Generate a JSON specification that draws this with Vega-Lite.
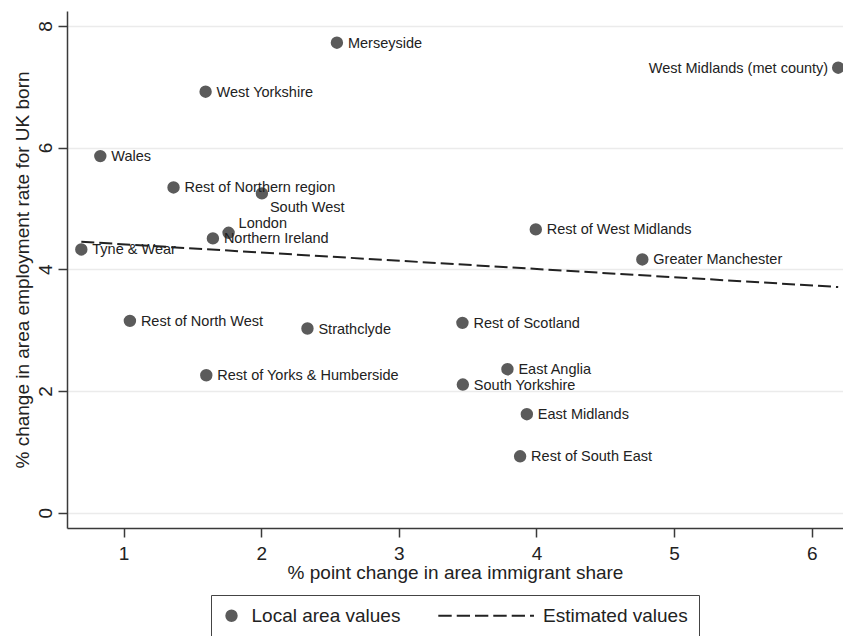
{
  "$schema": "https://vega.github.io/schema/vega-lite/v6.json",
  "width": 776,
  "height": 517,
  "autosize": {"type": "none"},
  "padding": {"left": 67, "top": 11, "right": 0, "bottom": 108},
  "background": "white",
  "config": {
    "view": {"stroke": null},
    "font": "Liberation Sans",
    "axis": {
      "labelFont": "Liberation Sans",
      "titleFont": "Liberation Sans",
      "labelFontSize": 19,
      "titleFontSize": 19,
      "titleFontWeight": "normal",
      "labelColor": "#222222",
      "titleColor": "#222222",
      "domainColor": "#3a3a3a",
      "domainWidth": 1.5,
      "tickColor": "#3a3a3a",
      "tickWidth": 1.5,
      "tickSize": 9
    },
    "legend": {
      "layout": {"bottom": {"anchor": "middle"}}
    }
  },
  "datasets": {
    "areas": [
      {"area": "Merseyside", "immig": 2.550, "emp": 7.724},
      {"area": "West Midlands (met county)", "immig": 6.192, "emp": 7.313},
      {"area": "West Yorkshire", "immig": 1.596, "emp": 6.918},
      {"area": "Wales", "immig": 0.831, "emp": 5.860},
      {"area": "Rest of Northern region", "immig": 1.363, "emp": 5.345},
      {"area": "South West", "immig": 2.005, "emp": 5.247},
      {"area": "Rest of West Midlands", "immig": 3.995, "emp": 4.655},
      {"area": "London", "immig": 1.763, "emp": 4.599},
      {"area": "Northern Ireland", "immig": 1.649, "emp": 4.507},
      {"area": "Tyne & Wear", "immig": 0.693, "emp": 4.326},
      {"area": "Greater Manchester", "immig": 4.769, "emp": 4.161},
      {"area": "Rest of North West", "immig": 1.046, "emp": 3.151},
      {"area": "Strathclyde", "immig": 2.336, "emp": 3.026},
      {"area": "Rest of Scotland", "immig": 3.462, "emp": 3.119},
      {"area": "East Anglia", "immig": 3.789, "emp": 2.357},
      {"area": "Rest of Yorks & Humberside", "immig": 1.601, "emp": 2.258},
      {"area": "South Yorkshire", "immig": 3.465, "emp": 2.105},
      {"area": "East Midlands", "immig": 3.930, "emp": 1.617},
      {"area": "Rest of South East", "immig": 3.881, "emp": 0.926}
    ],
    "fit": [
      {"immig": 0.693, "emp": 4.452},
      {"immig": 6.192, "emp": 3.708}
    ]
  },
  "layer": [
    {
      "data": {"name": "areas"},
      "mark": {"type": "point", "filled": true, "size": 154, "opacity": 1, "strokeWidth": 0},
      "encoding": {
        "x": {
          "field": "immig", "type": "quantitative",
          "scale": {"domain": [0.589, 6.227], "nice": false, "zero": false},
          "axis": {"title": "% point change in area immigrant share", "values": [1, 2, 3, 4, 5, 6], "format": "d", "grid": false, "labelPadding": 7, "titlePadding": 0}
        },
        "y": {
          "field": "emp", "type": "quantitative",
          "scale": {"domain": [-0.253, 8.245], "nice": false, "zero": false},
          "axis": {"title": "% change in area employment rate for UK born", "values": [0, 2, 4, 6, 8], "format": "d", "grid": true, "gridColor": "#ebebeb", "gridWidth": 1.5, "labelAngle": -90, "labelPadding": 3, "titlePadding": 4}
        },
        "color": {
          "datum": "Local area values",
          "type": "nominal",
          "scale": {"domain": ["Local area values", "Estimated values"], "range": ["#5b5b5b", "#222222"]},
          "legend": {
            "title": null, "orient": "bottom", "direction": "horizontal", "offset": 13, "padding": 11,
            "strokeColor": "#444444", "labelFont": "Liberation Sans", "labelFontSize": 19, "labelColor": "#222222",
            "labelOffset": 10.5, "columnPadding": 36.5, "symbolSize": 154, "symbolStrokeWidth": 0, "symbolOpacity": 1
          }
        },
        "shape": {
          "datum": "Local area values",
          "type": "nominal",
          "scale": {
            "domain": ["Local area values", "Estimated values"],
            "range": [
              "circle",
              "M-13.65,-0.16H-11.49V0.16H-13.65Z M-10.68,-0.16H-8.54V0.16H-10.68Z M-7.74,-0.16H-5.59V0.16H-7.74Z M-4.79,-0.16H-2.63V0.16H-4.79Z M-1.82,-0.16H0.32V0.16H-1.82Z M1.13,-0.16H1.77V0.16H1.13Z"
            ]
          },
          "legend": {
            "title": null, "orient": "bottom", "direction": "horizontal", "offset": 13, "padding": 11,
            "strokeColor": "#444444", "labelFont": "Liberation Sans", "labelFontSize": 19, "labelColor": "#222222",
            "labelOffset": 10.5, "columnPadding": 36.5, "symbolSize": 154, "symbolStrokeWidth": 0, "symbolOpacity": 1
          }
        }
      }
    },
    {
      "data": {"name": "areas"},
      "transform": [{"filter": {"not": {"field": "area", "oneOf": ["West Midlands (met county)", "London", "South West"]}}}],
      "mark": {"type": "text", "align": "left", "baseline": "middle", "dx": 11, "dy": 1, "fontSize": 14.5, "font": "Liberation Sans", "color": "#222222"},
      "encoding": {
        "x": {"field": "immig", "type": "quantitative"},
        "y": {"field": "emp", "type": "quantitative"},
        "text": {"field": "area"}
      }
    },
    {
      "data": {"name": "areas"},
      "transform": [{"filter": {"field": "area", "equal": "West Midlands (met county)"}}],
      "mark": {"type": "text", "align": "right", "baseline": "middle", "dx": -10, "dy": 1, "fontSize": 14.5, "font": "Liberation Sans", "color": "#222222"},
      "encoding": {
        "x": {"field": "immig", "type": "quantitative"},
        "y": {"field": "emp", "type": "quantitative"},
        "text": {"field": "area"}
      }
    },
    {
      "data": {"name": "areas"},
      "transform": [{"filter": {"field": "area", "equal": "London"}}],
      "mark": {"type": "text", "align": "left", "baseline": "middle", "dx": 10, "dy": -9, "fontSize": 14.5, "font": "Liberation Sans", "color": "#222222"},
      "encoding": {
        "x": {"field": "immig", "type": "quantitative"},
        "y": {"field": "emp", "type": "quantitative"},
        "text": {"field": "area"}
      }
    },
    {
      "data": {"name": "areas"},
      "transform": [{"filter": {"field": "area", "equal": "South West"}}],
      "mark": {"type": "text", "align": "left", "baseline": "middle", "dx": 8, "dy": 15, "fontSize": 14.5, "font": "Liberation Sans", "color": "#222222"},
      "encoding": {
        "x": {"field": "immig", "type": "quantitative"},
        "y": {"field": "emp", "type": "quantitative"},
        "text": {"field": "area"}
      }
    },
    {
      "data": {"name": "fit"},
      "mark": {"type": "line", "color": "#222222", "strokeWidth": 2, "strokeDash": [13, 5]},
      "encoding": {
        "x": {"field": "immig", "type": "quantitative"},
        "y": {"field": "emp", "type": "quantitative"}
      }
    }
  ]
}
